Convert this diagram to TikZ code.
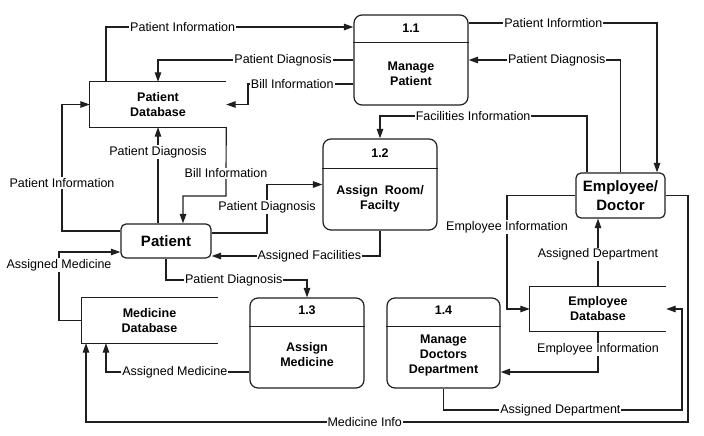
\documentclass[tikz,border=0pt]{standalone}
\usepackage{fontspec}
\setmainfont{Liberation Sans}
\usetikzlibrary{arrows.meta, positioning, calc}
\definecolor{C_LINE}{HTML}{1F1F1F}
\tikzset{
  %% -- process (numbered, rounded) --
  dfd/proc/.style={
    draw=C_LINE, line width=1.2pt, rounded corners=8pt,
    minimum width=114pt, minimum height=90pt, inner sep=0pt
  },
  %% -- process number and process name --
  dfd/num/.style={font=\fontsize{12.5}{15}\selectfont\bfseries, inner sep=0pt},
  dfd/name/.style={
    font=\fontsize{12.5}{15}\selectfont\bfseries, align=center, inner sep=0pt
  },
  %% -- external entity --
  dfd/ent/.style={
    draw=C_LINE, line width=1.2pt, rounded corners=5pt,
    font=\fontsize{15}{18.5}\selectfont\bfseries, align=center, inner sep=0pt
  },
  %% -- data store (open on the right) --
  dfd/store/.style={
    minimum width=136pt, minimum height=45pt,
    font=\fontsize{12.5}{15}\selectfont\bfseries, align=center, inner sep=0pt
  },
  dfd/open/.style={draw=C_LINE, line width=1.2pt},
  %% -- data flow and its label --
  dfd/flow/.style={-{Triangle[length=9.5pt,width=6.5pt]}, draw=C_LINE, line width=1.2pt},
  dfd/lbl/.style={font=\fontsize{12.5}{15}\selectfont, fill=white, inner sep=1pt},
}

\begin{document}
\begin{tikzpicture}[x=1pt, y=-1pt]
\useasboundingbox (0,0) rectangle (704,436);

%% Data stores
\node[dfd/store] (pdb) at (158,104.5) {Patient\\Database};
\node[dfd/store] (mdb) at (149.5,320.5) {Medicine\\Database};
\node[dfd/store] (edb) at (598,309) {Employee\\Database};
\draw[dfd/open] (pdb.north east) -- (pdb.north west) -- (pdb.south west) -- (pdb.south east);
\draw[dfd/open] (mdb.north east) -- (mdb.north west) -- (mdb.south west) -- (mdb.south east);
\draw[dfd/open] (edb.north east) -- (edb.north west) -- (edb.south west) -- (edb.south east);

%% External entities
\node[dfd/ent, minimum width=90pt, minimum height=34pt] (pat) at (166,241) {Patient};
\node[dfd/ent, minimum width=89pt, minimum height=45pt] (emp) at (620.5,195.5)
  {Employee/\\Doctor};

%% Processes
\node[dfd/proc] (p11) at (411,60) {};
\draw[dfd/open] ([yshift=-28pt]p11.north west) -- ([yshift=-28pt]p11.north east);
\node[dfd/num]  (p11num) at ([yshift=-14pt]p11.north) {1.1};
\node[dfd/name] (p11txt) at ([yshift=-59pt]p11.north) {Manage\\Patient};

\node[dfd/proc, minimum height=91pt] (p12) at (380,184.5) {};
\draw[dfd/open] ([yshift=-30pt]p12.north west) -- ([yshift=-30pt]p12.north east);
\node[dfd/num]  (p12num) at ([yshift=-14.5pt]p12.north) {1.2};
\node[dfd/name] (p12txt) at ([yshift=-60pt]p12.north) {Assign\ \ Room/\\Facilty};

\node[dfd/proc] (p13) at (307,343) {};
\draw[dfd/open] ([yshift=-29pt]p13.north west) -- ([yshift=-29pt]p13.north east);
\node[dfd/num]  (p13num) at ([yshift=-13pt]p13.north) {1.3};
\node[dfd/name] (p13txt) at ([yshift=-57.5pt]p13.north) {Assign\\Medicine};

\node[dfd/proc, minimum width=113pt] (p14) at (443.5,343) {};
\draw[dfd/open] ([yshift=-29pt]p14.north west) -- ([yshift=-29pt]p14.north east);
\node[dfd/num]  (p14num) at ([yshift=-13pt]p14.north) {1.4};
\node[dfd/name] (p14txt) at ([yshift=-58pt]p14.north) {Manage\\Doctors\\Department};

%% Patient Database <-> Manage Patient
\draw[dfd/flow] (pdb.north -| 106,0) |- node[dfd/lbl, pos=0.655]{Patient Information}
  (p11.west |- 0,27);
\draw[dfd/flow] (p11.west) -| node[dfd/lbl, pos=0.18]{Patient Diagnosis} (pdb.north);
\draw[dfd/flow] (p11.west |- 0,84) -- node[dfd/lbl, pos=0.58]{Bill Information}
  (248,84) |- (pdb.east);

%% Manage Patient <-> Employee/Doctor
\draw[dfd/flow] (p11.east |- 0,23) -| node[dfd/lbl, pos=0.225]{Patient Informtion}
  (emp.north -| 657,0);
\draw[dfd/flow] (emp.north) |- node[dfd/lbl, pos=0.71]{Patient Diagnosis} (p11.east);
\draw[dfd/flow] (emp.north -| 587,0) -- (587,116)
  -| node[dfd/lbl, pos=0.275]{Facilities Information} (p12.north);

%% Patient <-> Patient Database
\draw[dfd/flow] (pat.north -| pdb.south) -- node[dfd/lbl, pos=0.74]{Patient Diagnosis}
  (pdb.south);
\draw[dfd/flow] (pdb.south east) -- node[dfd/lbl, pos=0.67]{Bill Information}
  (226,196) -| (pat.north -| 183,0);
\draw[dfd/flow] (pat.west |- 0,231) -- (62,231)
  |- node[dfd/lbl, pos=0.19]{Patient Information} (pdb.west);

%% Patient <-> Assign Room/Facilty
\draw[dfd/flow] (pat.east |- 0,233) -- (267,233)
  |- node[dfd/lbl, pos=0.27]{Patient Diagnosis} (p12.west);
\draw[dfd/flow] (p12.south) |- node[dfd/lbl, pos=0.71]{Assigned Facilities}
  (pat.east |- 0,256);

%% Patient -> Assign Medicine -> Medicine Database -> Patient
\draw[dfd/flow] (pat.south) -- (166,280)
  -| node[dfd/lbl, pos=0.24]{Patient Diagnosis} (p13.north);
\draw[dfd/flow] (p13.west |- 0,372) -- node[dfd/lbl, pos=0.52]{Assigned Medicine}
  (106,372) -- (mdb.south -| 106,0);
\draw[dfd/flow] (mdb.west) -- (59,320.5)
  |- node[dfd/lbl, pos=0.405]{Assigned Medicine} (pat.west |- 0,252);

%% Employee/Doctor -> Medicine Database
\draw[dfd/flow] (emp.east) -- (688,195.5) -- (688,422)
  -- node[dfd/lbl, pos=0.537]{Medicine Info} (86,422) -- (mdb.south -| 86,0);

%% Employee/Doctor <-> Employee Database <-> Manage Doctors Department
\draw[dfd/flow] (emp.west) -- (507,195.5)
  |- node[dfd/lbl, pos=0.14]{Employee Information} (edb.west);
\draw[dfd/flow] (edb.north) -- node[dfd/lbl, pos=0.47]{Assigned Department}
  (emp.south -| edb.north);
\draw[dfd/flow] (edb.south) |- node[dfd/lbl, pos=0.22]{Employee Information}
  (p14.east |- 0,372);
\draw[dfd/flow] (p14.south) -- (443.5,410) -- node[dfd/lbl, pos=0.49]{Assigned Department}
  (682,410) |- (edb.east);
\end{tikzpicture}
\end{document}
